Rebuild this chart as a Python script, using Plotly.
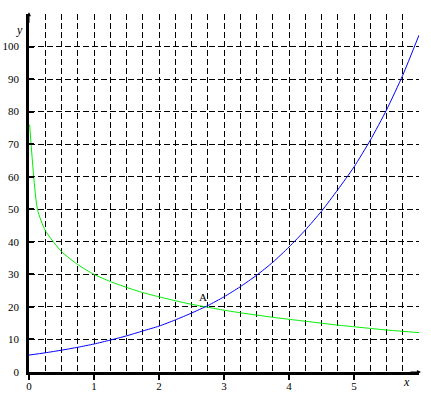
import plotly.graph_objects as go

# Data
blue_x = [0, 0.25, 0.5, 0.75, 1, 1.25, 1.5, 1.75, 2, 2.25, 2.5, 2.75, 3, 3.25,
          3.5, 3.75, 4, 4.25, 4.5, 4.75, 5, 5.25, 5.5, 5.75, 6]
blue_y = [5.2, 5.9, 6.7, 7.6, 8.6, 9.8, 11.1, 12.6, 14.1, 16.0, 18.1, 20.4, 23.1, 26.2,
          29.7, 33.7, 38.4, 43.6, 49.4, 56.0, 63.0, 71.2, 80.5, 91.2, 103.5]

green_x = [0.01, 0.13, 0.25, 0.5, 0.75, 1, 1.25, 1.5, 1.75, 2, 2.25, 2.5, 2.75, 3,
           3.25, 3.5, 3.75, 4, 4.25, 4.5, 4.75, 5, 5.25, 5.5, 5.75, 6]
green_y = [76, 50, 43.5, 37, 33, 30, 27.8, 26, 24.4, 23.1, 21.9, 20.8, 19.9, 19,
           18.2, 17.5, 16.8, 16.2, 15.6, 15, 14.4, 13.9, 13.4, 12.9, 12.5, 12.1]

x_ticks = [0, 1, 2, 3, 4, 5]
y_ticks = [0, 10, 20, 30, 40, 50, 60, 70, 80, 90, 100]
point_label = "A"
point_x, point_y = 2.68, 22.9

serif = "Liberation Serif"

fig = go.Figure()
fig.add_trace(go.Scatter(x=green_x, y=green_y, mode="lines",
                         line=dict(color="#00ee00", width=1, shape="spline", smoothing=0.6),
                         hoverinfo="skip"))
fig.add_trace(go.Scatter(x=blue_x, y=blue_y, mode="lines",
                         line=dict(color="#0000ff", width=1, shape="spline", smoothing=0.6),
                         hoverinfo="skip"))

grid_dash = "6px,3px"
fig.update_xaxes(range=[0, 6], tickvals=x_ticks, ticktext=[str(v) for v in x_ticks],
                 showgrid=True, gridcolor="black", gridwidth=1, griddash=grid_dash,
                 minor=dict(dtick=0.25, tick0=0, showgrid=True, gridcolor="black",
                            gridwidth=1, griddash=grid_dash),
                 showline=True, linecolor="black", linewidth=2.5,
                 ticks="outside", ticklen=5, tickwidth=2, tickcolor="black",
                 zeroline=False, fixedrange=True, automargin=False, ticklabelstandoff=-3,
                 tickfont=dict(family=serif, size=11, color="black"))
fig.update_yaxes(range=[0, 110], tickvals=y_ticks, ticktext=[str(v) for v in y_ticks],
                 showgrid=True, gridcolor="black", gridwidth=1, griddash=grid_dash,
                 minor=dict(dtick=10, tick0=0, showgrid=True, gridcolor="black",
                            gridwidth=1, griddash=grid_dash),
                 showline=True, linecolor="black", linewidth=2.5,
                 ticks="inside", ticklen=5, tickwidth=2, tickcolor="black",
                 zeroline=False, fixedrange=True, automargin=False, ticklabelstandoff=5,
                 tickfont=dict(family=serif, size=11, color="black"))

fig.add_annotation(x=point_x, y=point_y, text=point_label, showarrow=False,
                   font=dict(family=serif, size=11, color="black"))
# axis names
fig.add_annotation(xref="paper", yref="paper", x=-0.01, y=0.955, text="<i>y</i>",
                   showarrow=False, xanchor="right", yanchor="middle",
                   font=dict(family=serif, size=12, color="black"))
fig.add_annotation(xref="paper", yref="paper", x=0.967, y=-0.003, text="<i>x</i>",
                   showarrow=False, xanchor="center", yanchor="top",
                   font=dict(family=serif, size=12, color="black"))
# axis arrows
fig.add_annotation(xref="paper", yref="paper", x=0, y=1.005, ax=0, ay=12,
                   text="", showarrow=True, arrowhead=2, arrowsize=0.8,
                   arrowwidth=1, arrowcolor="black")
fig.add_annotation(xref="paper", yref="paper", x=1.005, y=0, ax=-12, ay=0,
                   text="", showarrow=True, arrowhead=2, arrowsize=0.8,
                   arrowwidth=1, arrowcolor="black")

fig.update_layout(width=431, height=393, showlegend=False,
                  margin=dict(l=29, r=12, t=14, b=21),
                  paper_bgcolor="white", plot_bgcolor="white")

fig.write_html("out.html", config={"displayModeBar": False},
               post_script="document.body.style.margin='0';document.body.style.padding='0';")
